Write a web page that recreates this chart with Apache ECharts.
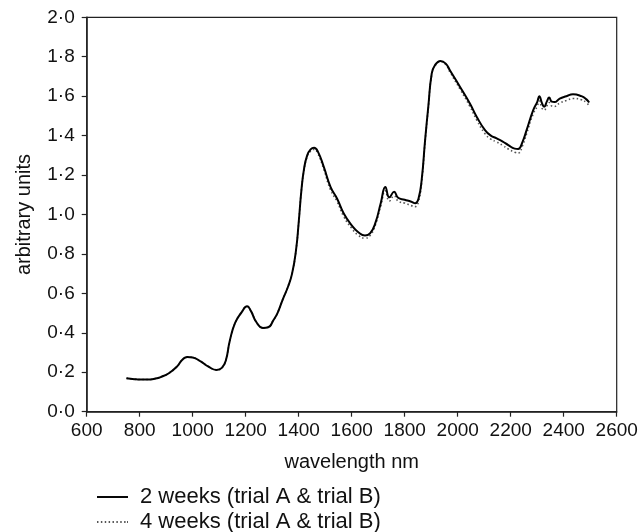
<!DOCTYPE html>
<html>
<head>
<meta charset="utf-8">
<script src="https://cdn.jsdelivr.net/npm/echarts@6/dist/echarts.min.js"></script>
<style>
html,body{margin:0;padding:0;background:#fff;}
#chart{width:642px;height:532px;}
</style>
</head>
<body>
<div id="chart"></div>
<script>
// wavelength (nm)
const wavelengths = [750,780,800,830,860,880,910,940,960,980,1000,1030,1060,1090,1110,1125,1140,1160,1185,1205,1220,1240,1265,1285,1305,1320,1340,1360,1375,1390,1400,1410,1420,1432,1445,1458,1472,1495,1520,1545,1570,1600,1625,1650,1670,1690,1710,1727,1742,1760,1775,1800,1825,1840,1852,1864,1877,1889,1902,1914,1935,1955,1971,2009,2046,2072,2103,2125,2147,2170,2191,2215,2228,2245,2260,2285,2300,2308,2318,2326,2337,2345,2355,2365,2385,2410,2435,2467,2485,2496];
// 2 weeks (trial A & trial B)
const twoWeeks = [0.170,0.165,0.163,0.163,0.168,0.176,0.195,0.228,0.262,0.278,0.275,0.255,0.228,0.212,0.222,0.260,0.360,0.450,0.505,0.535,0.510,0.455,0.425,0.428,0.465,0.500,0.570,0.635,0.700,0.820,0.960,1.120,1.230,1.300,1.330,1.338,1.320,1.240,1.140,1.080,1.005,0.945,0.910,0.893,0.905,0.960,1.060,1.140,1.087,1.115,1.085,1.075,1.065,1.057,1.080,1.175,1.377,1.546,1.715,1.757,1.779,1.765,1.730,1.647,1.563,1.495,1.428,1.400,1.386,1.370,1.352,1.334,1.332,1.370,1.428,1.529,1.570,1.600,1.565,1.546,1.575,1.593,1.572,1.570,1.588,1.600,1.610,1.600,1.585,1.568];
// 4 weeks (trial A & trial B)
const fourWeeks = [0.170,0.165,0.163,0.163,0.168,0.176,0.195,0.228,0.262,0.278,0.275,0.255,0.228,0.212,0.222,0.260,0.360,0.450,0.505,0.535,0.510,0.455,0.425,0.428,0.465,0.500,0.570,0.635,0.700,0.820,0.960,1.120,1.225,1.293,1.322,1.330,1.310,1.228,1.125,1.065,0.990,0.930,0.895,0.880,0.895,0.950,1.045,1.120,1.068,1.095,1.068,1.058,1.045,1.040,1.065,1.165,1.370,1.540,1.710,1.752,1.775,1.760,1.722,1.635,1.548,1.478,1.410,1.382,1.368,1.350,1.332,1.316,1.312,1.350,1.410,1.510,1.548,1.575,1.540,1.529,1.552,1.568,1.550,1.548,1.565,1.578,1.588,1.582,1.568,1.552];
const legendNames = ['2 weeks (trial A & trial B)', '4 weeks (trial A & trial B)'];
const xTicks = {min: 600, max: 2600, step: 200};
const yTicks = {min: 0, max: 2, step: 0.2};

const font = 'Liberation Sans, Arial, Helvetica, sans-serif';
const toPairs = (xs, ys) => xs.map((x, i) => [x, ys[i]]);

// legend icons: a solid stroke and a row of small dots
const solidIcon = 'path://M0,0H32V2H0Z';
let dotted = '';
for (let i = 0; i < 8; i++) { const x = i * 4; dotted += 'M' + x + ',0H' + (x + 1.5) + 'V2H' + x + 'Z'; }
const dottedIcon = 'path://' + dotted + 'M31,0H32V2H31Z';

const legendBase = {
  orient: 'vertical', left: 97, padding: 0,
  itemWidth: 31, itemHeight: 2, itemGap: 0,
  textStyle: {fontFamily: font, fontSize: 22, color: '#111', padding: [0, 0, 0, 7]}
};

const chart = echarts.init(document.getElementById('chart'), null, {renderer: 'canvas'});
chart.setOption({
  backgroundColor: '#fff',
  animation: false,
  grid: {left: 86.7, right: 25.3, top: 17.3, bottom: 120.3, show: true, borderColor: '#222', borderWidth: 1.2},
  legend: [
    Object.assign({}, legendBase, {top: 486, data: [{name: legendNames[0], icon: solidIcon}]}),
    Object.assign({}, legendBase, {top: 511, data: [{name: legendNames[1], icon: dottedIcon}]})
  ],
  xAxis: {
    type: 'value', min: xTicks.min, max: xTicks.max, interval: xTicks.step,
    name: 'wavelength nm', nameLocation: 'middle', nameGap: 41,
    nameTextStyle: {fontFamily: font, fontSize: 20, color: '#111'},
    axisLine: {show: true, lineStyle: {color: '#222', width: 1.5}},
    axisTick: {show: true, inside: false, length: 5, lineStyle: {color: '#222', width: 1.2}},
    axisLabel: {fontFamily: font, fontSize: 19, color: '#111', margin: 10, formatter: v => String(v)},
    splitLine: {show: false}
  },
  yAxis: {
    type: 'value', min: yTicks.min, max: yTicks.max, interval: yTicks.step,
    name: 'arbitrary units', nameLocation: 'middle', nameGap: 52,
    nameTextStyle: {fontFamily: font, fontSize: 20, color: '#111'},
    axisLine: {show: true, lineStyle: {color: '#222', width: 1.5}},
    axisTick: {show: true, inside: false, length: 5, lineStyle: {color: '#222', width: 1.2}},
    axisLabel: {fontFamily: font, fontSize: 19, color: '#111', margin: 12,
      formatter: v => v.toFixed(1).replace('.', '\u00B7')},
    splitLine: {show: false}
  },
  series: [
    {
      name: legendNames[1], type: 'line', data: toPairs(wavelengths, fourWeeks),
      symbol: 'none', smooth: 0.5, z: 2,
      lineStyle: {color: '#555', width: 1.6, type: [1.5, 2.5]}, itemStyle: {color: '#555'}
    },
    {
      name: legendNames[0], type: 'line', data: toPairs(wavelengths, twoWeeks),
      symbol: 'none', smooth: 0.5, z: 3,
      lineStyle: {color: '#000', width: 2}, itemStyle: {color: '#000'}
    }
  ]
});
</script>
</body>
</html>
